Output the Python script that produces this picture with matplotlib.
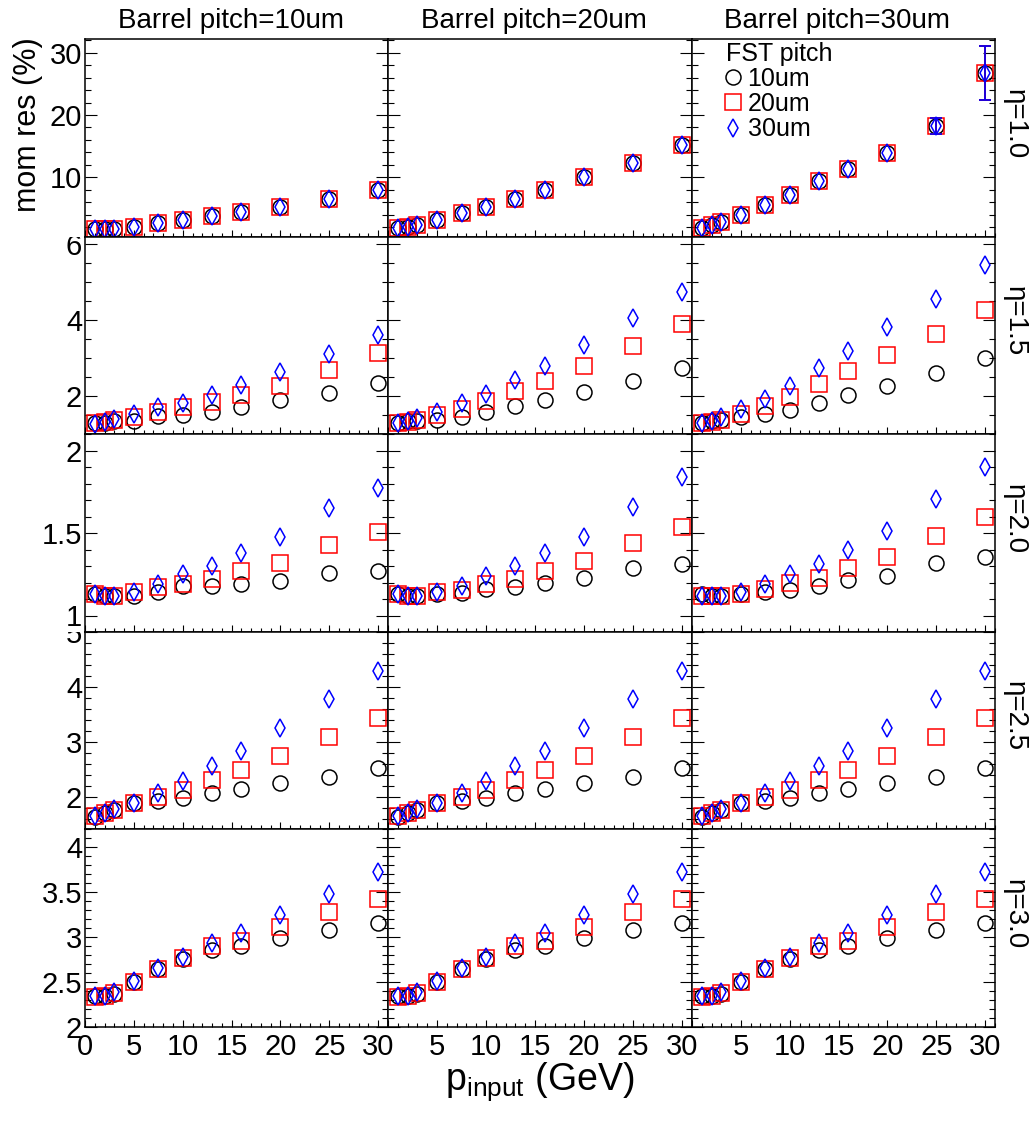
import numpy as np
import matplotlib.pyplot as plt
from matplotlib.ticker import FixedLocator, MultipleLocator, FormatStrFormatter, NullFormatter
from matplotlib.lines import Line2D
from matplotlib.transforms import Bbox, TransformedBbox

plt.rcParams['font.family'] = ['Liberation Sans', 'DejaVu Sans']
plt.rcParams['mathtext.fontset'] = 'custom'
plt.rcParams['mathtext.rm'] = 'Liberation Sans'
plt.rcParams['mathtext.it'] = 'Liberation Sans:italic'

# momentum points (GeV)
p_input = [1, 2, 3, 5, 7.5, 10, 13, 16, 20, 25, 30]
barrel = ['10um', '20um', '30um']
fst = ['10um', '20um', '30um']
eta = ['1.0', '1.5', '2.0', '2.5', '3.0']

# eta = 1.0 : the three FST pitches sit on top of each other
eta10_b10 = [1.65, 1.7, 1.75, 1.97, 2.6, 3.1, 3.8, 4.5, 5.3, 6.5, 8.0]
eta10_b20 = [1.8, 2.05, 2.3, 3.15, 4.2, 5.3, 6.5, 8.0, 10.0, 12.3, 15.2]
eta10_b30 = [1.8, 2.3, 2.9, 4.0, 5.6, 7.2, 9.4, 11.4, 13.9, 18.2, 26.7]
# only the largest errors stick out of the markers
eta10_b30_err = [0, 0, 0, 0, 0, 0, 0, 0, 0, 1.3, 4.3]

# eta = 1.5
eta15_b10_f10 = [1.27, 1.29, 1.32, 1.33, 1.47, 1.50, 1.56, 1.71, 1.89, 2.08, 2.33]
eta15_b10_f20 = [1.28, 1.30, 1.36, 1.45, 1.58, 1.69, 1.84, 2.02, 2.26, 2.68, 3.12]
eta15_b10_f30 = [1.26, 1.30, 1.38, 1.53, 1.69, 1.81, 2.02, 2.28, 2.62, 3.09, 3.61]
eta15_b20_f10 = [1.29, 1.32, 1.34, 1.36, 1.45, 1.58, 1.74, 1.89, 2.11, 2.40, 2.73]
eta15_b20_f20 = [1.29, 1.31, 1.36, 1.49, 1.66, 1.87, 2.13, 2.38, 2.79, 3.32, 3.90]
eta15_b20_f30 = [1.27, 1.32, 1.40, 1.58, 1.81, 2.05, 2.42, 2.79, 3.35, 4.05, 4.75]
eta15_b30_f10 = [1.27, 1.32, 1.36, 1.43, 1.53, 1.63, 1.82, 2.02, 2.26, 2.59, 3.00]
eta15_b30_f20 = [1.27, 1.30, 1.37, 1.53, 1.74, 1.97, 2.31, 2.64, 3.08, 3.63, 4.27]
eta15_b30_f30 = [1.27, 1.33, 1.43, 1.65, 1.91, 2.26, 2.72, 3.19, 3.81, 4.56, 5.44]

# eta = 2.0
eta20_b10_f10 = [1.13, 1.12, 1.12, 1.12, 1.14, 1.18, 1.18, 1.19, 1.21, 1.26, 1.27]
eta20_b10_f20 = [1.13, 1.12, 1.12, 1.14, 1.17, 1.19, 1.22, 1.27, 1.32, 1.43, 1.505]
eta20_b10_f30 = [1.13, 1.12, 1.12, 1.145, 1.19, 1.25, 1.30, 1.38, 1.475, 1.65, 1.77]
eta20_b20_f10 = [1.13, 1.12, 1.12, 1.13, 1.135, 1.16, 1.17, 1.20, 1.23, 1.29, 1.31]
eta20_b20_f20 = [1.13, 1.12, 1.12, 1.14, 1.155, 1.19, 1.22, 1.27, 1.33, 1.44, 1.535]
eta20_b20_f30 = [1.13, 1.12, 1.12, 1.145, 1.18, 1.24, 1.30, 1.38, 1.475, 1.66, 1.84]
eta20_b30_f10 = [1.13, 1.12, 1.12, 1.13, 1.14, 1.155, 1.18, 1.215, 1.24, 1.32, 1.355]
eta20_b30_f20 = [1.12, 1.12, 1.12, 1.13, 1.16, 1.20, 1.23, 1.29, 1.355, 1.48, 1.60]
eta20_b30_f30 = [1.12, 1.12, 1.12, 1.145, 1.19, 1.25, 1.31, 1.40, 1.51, 1.705, 1.90]

# eta = 2.5 (same in every barrel column)
eta25_f10 = [1.63, 1.71, 1.76, 1.88, 1.92, 1.98, 2.07, 2.13, 2.24, 2.36, 2.53]
eta25_f20 = [1.65, 1.70, 1.76, 1.88, 2.00, 2.12, 2.30, 2.48, 2.74, 3.09, 3.44]
eta25_f30 = [1.64, 1.70, 1.78, 1.89, 2.06, 2.29, 2.56, 2.84, 3.25, 3.77, 4.29]

# eta = 3.0 (same in every barrel column)
eta30_f10 = [2.34, 2.34, 2.37, 2.50, 2.64, 2.76, 2.86, 2.90, 2.99, 3.08, 3.16]
eta30_f20 = [2.33, 2.34, 2.38, 2.50, 2.65, 2.77, 2.90, 2.96, 3.11, 3.28, 3.42]
eta30_f30 = [2.34, 2.35, 2.39, 2.51, 2.66, 2.78, 2.93, 3.05, 3.25, 3.48, 3.72]

res = [
    [[eta10_b10] * 3, [eta10_b20] * 3, [eta10_b30] * 3],
    [[eta15_b10_f10, eta15_b10_f20, eta15_b10_f30],
     [eta15_b20_f10, eta15_b20_f20, eta15_b20_f30],
     [eta15_b30_f10, eta15_b30_f20, eta15_b30_f30]],
    [[eta20_b10_f10, eta20_b10_f20, eta20_b10_f30],
     [eta20_b20_f10, eta20_b20_f20, eta20_b20_f30],
     [eta20_b30_f10, eta20_b30_f20, eta20_b30_f30]],
    [[eta25_f10, eta25_f20, eta25_f30]] * 3,
    [[eta30_f10, eta30_f20, eta30_f30]] * 3,
]
errs = {(0, 2): eta10_b30_err}

ylims = [(0.42, 32.2), (0.99, 6.19), (0.9, 2.1), (1.41, 5.0), (2.0, 4.2)]
ymajor = [[10, 20, 30], [2, 4, 6], [1, 1.5, 2], [2, 3, 4, 5], [2, 2.5, 3, 3.5, 4]]
yminor = [2, 0.5, 0.1, 0.2, 0.1]

# pad layout in pixels
W, H = 1036, 1128
col_x = [85, 388, 692, 995]
row_y = [39, 237, 434, 632, 829, 1027]

styles = [dict(marker='o', ms=10.8, mec='black', color='black'),
          dict(marker='s', ms=11.2, mec='red', color='red'),
          dict(marker='d', ms=8.8, mec='blue', color='blue')]

fig = plt.figure(figsize=(W / 100, H / 100), dpi=100)

for r in range(5):
    for c in range(3):
        x0, x1 = col_x[c], col_x[c + 1]
        y0, y1 = row_y[r], row_y[r + 1]
        ax = fig.add_axes([x0 / W, 1 - y1 / H, (x1 - x0) / W, (y1 - y0) / H])
        for s in range(3):
            st = styles[s]
            yv = res[r][c][s]
            if (r, c) in errs:
                e = np.array(errs[(r, c)])
                keep = e > 0
                ax.errorbar(np.array(p_input)[keep], np.array(yv)[keep], yerr=e[keep],
                            fmt='none', ecolor=st['color'], elinewidth=1.2, capsize=4,
                            capthick=1.2)
            ax.plot(p_input, yv, ls='none', marker=st['marker'], ms=st['ms'],
                    mfc='none', mec=st['mec'], mew=1.1)
        ax.set_xlim(0, 31)
        ax.set_ylim(*ylims[r])
        ax.xaxis.set_major_locator(FixedLocator([0, 5, 10, 15, 20, 25, 30]))
        ax.xaxis.set_minor_locator(MultipleLocator(1))
        ax.yaxis.set_major_locator(FixedLocator(ymajor[r]))
        ax.yaxis.set_minor_locator(MultipleLocator(yminor[r]))
        ax.tick_params(which='both', direction='in', top=False, right=True, width=0.8,
                       labelsize=21)
        ax.tick_params(axis='x', which='major', length=5, pad=4)
        ax.tick_params(axis='x', which='minor', length=3)
        ax.tick_params(axis='y', which='major', length=8.6, pad=2)
        ax.tick_params(axis='y', which='minor', length=4.3)
        for sp in ax.spines.values():
            sp.set_linewidth(1.1)
        if c == 0:
            ax.yaxis.set_major_formatter(FormatStrFormatter('%g'))
            if r > 0:
                band = TransformedBbox(Bbox([[0, 0], [1, 1 - y0 / H]]), fig.transFigure)
                for lab in ax.get_yticklabels():
                    lab.set_clip_on(True)
                    lab.set_clip_box(band)
        else:
            ax.yaxis.set_major_formatter(NullFormatter())
        if r == 4:
            if c == 0:
                ax.set_xticklabels(['0', '5', '10', '15', '20', '25', '30'])
            else:
                ax.set_xticklabels(['', '5', '10', '15', '20', '25', '30'])
        else:
            ax.xaxis.set_major_formatter(NullFormatter())
        if r == 0:
            fig.text(((x0 + x1) / 2 - 6) / W, 1 - 28 / H, 'Barrel pitch=' + barrel[c],
                     ha='center', va='baseline', fontsize=20)
        if r == 0 and c == 2:
            handles = [Line2D([], [], ls='none', marker=st['marker'], ms=st['ms'],
                              mfc='none', mec=st['mec'], mew=1.1) for st in styles]
            ax.legend(handles, fst, title='FST pitch', loc='upper left',
                      bbox_to_anchor=(0.105, 1.0), frameon=False, fontsize=18,
                      title_fontsize=18, alignment='left', handlelength=0.55,
                      handletextpad=0.3, labelspacing=0.05, borderpad=0.1,
                      borderaxespad=0)
    fig.text(1015 / W, 1 - ((row_y[r] + row_y[r + 1]) / 2 - 14) / H, '\u03b7=' + eta[r],
             rotation=-90, ha='center', va='center', fontsize=20)

fig.text(28 / W, 1 - 125 / H, 'mom res (%)', rotation=90, ha='center', va='center',
         fontsize=22)
fig.text(540 / W, 1 - 1082 / H, r'p$_{\mathrm{input}}$ (GeV)', ha='center', va='center',
         fontsize=27)

fig.savefig('out.png', dpi=100)
